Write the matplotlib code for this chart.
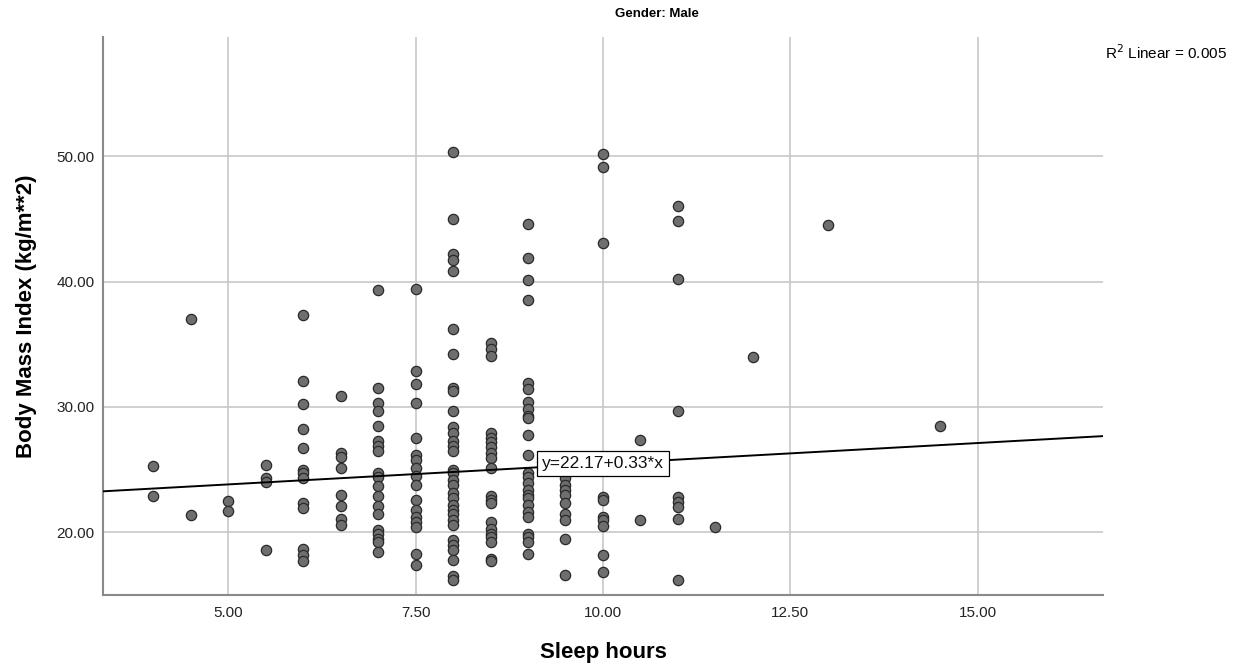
import numpy as np
import matplotlib
matplotlib.use("Agg")
import matplotlib.pyplot as plt

plt.rcParams['font.family'] = ['Liberation Sans', 'DejaVu Sans']

# sleep hours levels and the BMI values
sleep_levels = [4.0, 4.5, 5.0, 5.5, 6.0, 6.5, 7.0, 7.5, 8.0, 8.5,
                9.0, 9.5, 10.0, 10.5, 11.0, 11.5, 12.0, 13.0, 14.5]
bmi_by_level = [
    [25.3, 22.9],
    [37.0, 21.4],
    [22.5, 21.7],
    [25.4, 24.3, 24.0, 18.6],
    [37.3, 32.1, 30.2, 28.2, 26.7, 25.0, 24.7, 24.3, 22.3, 21.9, 18.7, 18.2, 17.7],
    [30.9, 26.3, 26.0, 25.1, 23.0, 22.1, 21.1, 20.6],
    [39.3, 31.5, 30.3, 29.7, 28.5, 27.3, 26.9, 26.5, 24.7, 24.4, 23.7, 22.9,
     22.1, 21.5, 20.2, 19.9, 19.5, 19.2, 18.4],
    [39.4, 32.9, 31.8, 30.3, 27.5, 26.2, 25.8, 25.1, 24.5, 23.8, 22.6, 21.8,
     21.2, 20.8, 20.4, 18.3, 17.4],
    [50.3, 45.0, 42.2, 41.7, 40.8, 36.2, 34.2, 31.5, 31.3, 29.7, 28.4, 27.9,
     27.3, 26.9, 26.5, 25.0, 24.7, 24.2, 23.8, 23.1, 22.7, 22.2, 21.8, 21.5,
     21.0, 20.6, 19.4, 19.0, 18.6, 17.8, 16.5, 16.2],
    [35.1, 34.6, 34.1, 27.9, 27.5, 27.2, 26.8, 26.3, 25.9, 25.1, 22.9, 22.6,
     22.3, 20.8, 20.3, 19.9, 19.6, 19.2, 17.9, 17.7],
    [44.6, 41.9, 40.1, 38.5, 31.9, 31.4, 30.4, 29.8, 29.3, 29.1, 27.8, 26.2,
     24.7, 24.4, 23.9, 23.4, 23.0, 22.7, 22.2, 21.6, 21.2, 19.9, 19.6, 19.2, 18.3],
    [24.3, 23.8, 23.4, 23.0, 22.3, 21.5, 21.0, 19.5, 16.6],
    [50.2, 49.1, 43.1, 22.8, 22.6, 21.2, 21.0, 20.5, 18.2, 16.8],
    [27.4, 21.0],
    [46.0, 44.8, 40.2, 29.7, 22.8, 22.4, 22.0, 21.1, 16.2],
    [20.4],
    [34.0],
    [44.5],
    [28.5],
]

fit_intercept = 22.17
fit_slope = 0.33
r2_linear = 0.005

x_ticks = [5.0, 7.5, 10.0, 12.5, 15.0]
y_ticks = [20.0, 30.0, 40.0, 50.0]

sleep = np.concatenate([[s] * len(b) for s, b in zip(sleep_levels, bmi_by_level)])
bmi = np.concatenate(bmi_by_level)

fig = plt.figure(figsize=(12.38, 6.69), dpi=100)
ax = fig.add_axes([0.0832, 0.1106, 0.8077, 0.8341])

ax.set_xlim(3.33, 16.67)
ax.set_ylim(15.0, 59.5)

ax.grid(True, color='#c8c8c8', linewidth=1.2)
ax.set_axisbelow(True)

ax.scatter(sleep, bmi, s=55, facecolor='#6e6e6e', edgecolor='#2a2a2a',
           linewidth=0.9, zorder=3)

xl = np.array(ax.get_xlim())
ax.plot(xl, fit_intercept + fit_slope * xl, color='black', lw=1.4, zorder=4)

ax.text(10.0, fit_intercept + fit_slope * 10.0, f"y={fit_intercept:.2f}+{fit_slope:.2f}*x",
        ha='center', va='center', fontsize=12.5, color='#111111', zorder=5,
        bbox=dict(boxstyle='square,pad=0.3', facecolor='white', edgecolor='black', lw=0.9))

ax.set_xticks(x_ticks)
ax.set_xticklabels([f"{v:.2f}" for v in x_ticks])
ax.set_yticks(y_ticks)
ax.set_yticklabels([f"{v:.2f}" for v in y_ticks])
ax.tick_params(length=0, labelsize=11, colors='#222222')
ax.tick_params(axis='x', pad=8)
ax.tick_params(axis='y', pad=6)

for side in ['top', 'right']:
    ax.spines[side].set_visible(False)
for side in ['left', 'bottom']:
    ax.spines[side].set_color('#8a8a8a')
    ax.spines[side].set_linewidth(1.5)

ax.set_xlabel("Sleep hours", fontsize=16, fontweight='bold', labelpad=16)
ax.set_ylabel("Body Mass Index (kg/m**2)", fontsize=16, fontweight='bold', labelpad=14)

fig.text(0.531, 0.979, "Gender: Male", ha='center', va='center',
         fontsize=9.5, fontweight='bold')
fig.text(0.991, 0.921, "R$^{2}$ Linear = " + f"{r2_linear:.3f}", ha='right', va='center',
         fontsize=11)

fig.savefig("out.png", dpi=100)
